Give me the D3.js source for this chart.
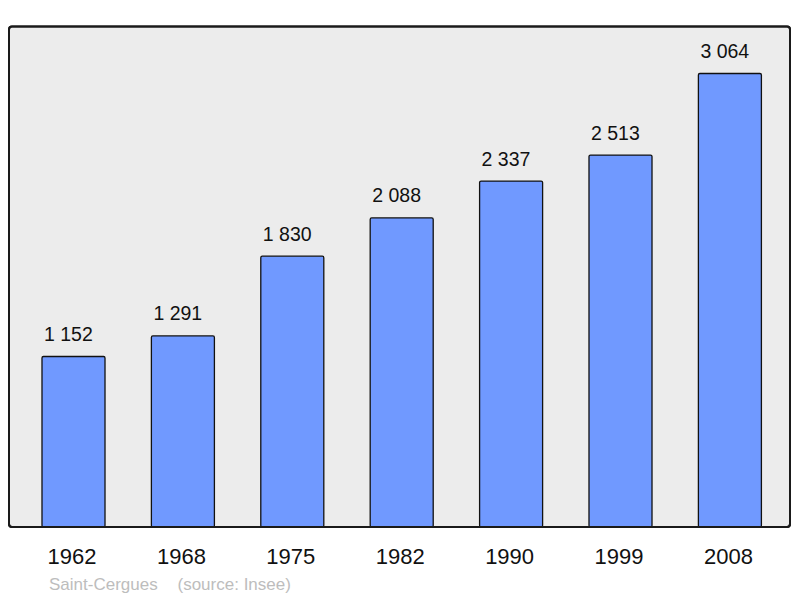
<!DOCTYPE html>
<html><head><meta charset="utf-8">
<script src="https://cdn.jsdelivr.net/npm/d3@7"></script>
<style>body{margin:0;background:#fff}svg{display:block}</style>
</head><body>
<script>
const years = ["1962","1968","1975","1982","1990","1999","2008"];
const population = [1152,1291,1830,2088,2337,2513,3064];
const valueLabels = ["1 152","1 291","1 830","2 088","2 337","2 513","3 064"];
const communeName = "Saint-Cergues";
const sourceNote = "(source: Insee)";

const W = 800, H = 598;
const svg = d3.select("body").append("svg").attr("width", W).attr("height", H);

const frame = {x: 9, y: 26.5, w: 781, h: 500.5};
svg.append("rect").attr("x", frame.x).attr("y", frame.y).attr("width", frame.w).attr("height", frame.h)
  .attr("rx", 3).attr("fill", "#ececec").attr("stroke", "#1a1a1a").attr("stroke-width", 2);

const x = d3.scaleBand().domain(years).range([18.8, 784.6]).paddingInner(0.424).paddingOuter(0.212);
const baseline = 527;
const y = d3.scaleLinear().domain([0, 3064]).range([baseline, 73.5]);

const g = svg.append("g");
g.selectAll("rect.bar").data(years).join("rect").attr("class","bar")
  .attr("x", d => x(d)).attr("width", x.bandwidth())
  .attr("y", (d,i) => y(population[i])).attr("height", (d,i) => baseline - y(population[i]))
  .attr("rx", 1.5)
  .attr("fill", "#7099ff").attr("stroke", "#111").attr("stroke-width", 1.3);

g.selectAll("text.val").data(years).join("text").attr("class","val")
  .attr("x", d => x(d) + 2).attr("y", (d,i) => y(population[i]) - 15.5)
  .attr("text-anchor","start").attr("font-family","Liberation Sans, Arial, sans-serif")
  .attr("font-size", 19.5).attr("fill","#111").text((d,i) => valueLabels[i]);

svg.append("rect").attr("x", frame.x).attr("y", frame.y).attr("width", frame.w).attr("height", frame.h)
  .attr("rx", 3).attr("fill", "none").attr("stroke", "#1a1a1a").attr("stroke-width", 2);

const xAxis = d3.axisBottom(x).tickSize(0).tickPadding(0);
const ax = svg.append("g").attr("transform", `translate(0,${baseline})`).call(xAxis);
ax.select(".domain").remove();
ax.selectAll("text").attr("font-family","Liberation Sans, Arial, sans-serif").attr("font-size", 22)
  .attr("fill","#111").attr("dy", null).attr("y", 36.5).attr("dx", -1.5);

const src = svg.append("g").attr("font-family","Liberation Sans, Arial, sans-serif")
  .attr("font-size", 17).attr("fill","#bdbdbd");
src.append("text").attr("x", 49).attr("y", 590).text(communeName);
src.append("text").attr("x", 177.5).attr("y", 590).text(sourceNote);
</script>
</body></html>
